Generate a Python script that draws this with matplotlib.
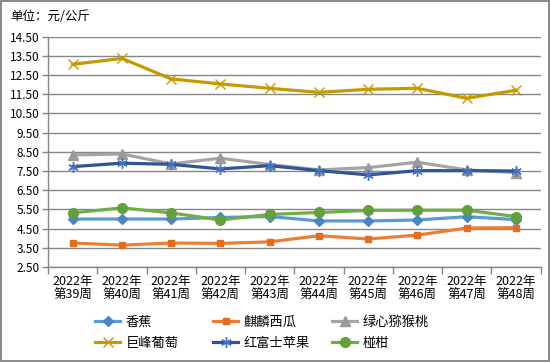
import matplotlib
matplotlib.use("Agg")
import matplotlib.pyplot as plt

plt.rcParams["font.family"] = ["Noto Sans CJK SC", "DejaVu Sans"]

weeks = ["2022年\n第39周", "2022年\n第40周", "2022年\n第41周", "2022年\n第42周", "2022年\n第43周",
         "2022年\n第44周", "2022年\n第45周", "2022年\n第46周", "2022年\n第47周", "2022年\n第48周"]

banana = [5.00, 5.00, 5.00, 5.08, 5.13, 4.90, 4.90, 4.95, 5.12, 4.97]
watermelon = [3.75, 3.64, 3.75, 3.73, 3.81, 4.13, 3.96, 4.16, 4.53, 4.55]
kiwi = [8.34, 8.39, 7.87, 8.17, 7.84, 7.56, 7.68, 7.96, 7.56, 7.42]
grape = [13.06, 13.37, 12.30, 12.04, 11.81, 11.60, 11.76, 11.81, 11.29, 11.71]
apple = [7.73, 7.91, 7.85, 7.61, 7.78, 7.52, 7.30, 7.52, 7.52, 7.50]
citrus = [5.32, 5.58, 5.32, 4.95, 5.24, 5.34, 5.45, 5.46, 5.46, 5.13]

names = ["香蕉", "麒麟西瓜", "绿心猕猴桃", "巨峰葡萄", "红富士苹果", "椪柑"]

W, H = 550, 362
fig = plt.figure(figsize=(W / 100, H / 100), dpi=100)
fig.patch.set_edgecolor("#8c8c8c")
fig.patch.set_linewidth(1.5)

ax = fig.add_axes([48 / W, 1 - 267 / H, (540.5 - 48) / W, (267 - 36.7) / H])

x = list(range(len(weeks)))
# (数据, 线色, 标记, 标记色, 标记大小)
styles = [
    (banana, "#5B9BD5", "D", "#4A86C5", 5),
    (watermelon, "#ED7D31", "s", "#E36C1E", 5),
    (kiwi, "#A5A5A5", "^", "#9A9A9A", 6.5),
    (grape, "#C49A00", "x", "#C49A00", 6.5),
    (apple, "#2F5597", (6, 2, 0), "#4472C4", 7.5),
    (citrus, "#70AD47", "o", "#62A03B", 7),
]
handles = []
for name, (vals, col, mk, mcol, ms) in zip(names, styles):
    h, = ax.plot(x, vals, color=col, lw=2.3, marker=mk, markersize=ms,
                 markerfacecolor=mcol, markeredgecolor=mcol, markeredgewidth=1.0,
                 label=name, zorder=3)
    handles.append(h)

ax.set_xlim(-0.5, len(weeks) - 0.5)
ax.set_ylim(2.5, 14.5)
ax.set_yticks([2.5 + i for i in range(13)])
ax.set_yticklabels([f"{2.5 + i:.2f}" for i in range(13)], fontsize=8.5)
ax.set_xticks(x)
ax.set_xticklabels(weeks, fontsize=9, linespacing=1.05)
ax.set_xticks([i - 0.5 for i in range(len(weeks) + 1)], minor=True)
ax.tick_params(axis="x", which="major", length=0, pad=6)
ax.tick_params(axis="x", which="minor", length=5, color="#868686", width=1, direction="out")
ax.tick_params(axis="y", length=4, color="#868686", width=1, pad=2)
ax.grid(axis="y", color="#868686", lw=1)
ax.set_axisbelow(True)
for s in ["top", "right"]:
    ax.spines[s].set_visible(False)
for s in ["left", "bottom"]:
    ax.spines[s].set_color("#868686")
    ax.spines[s].set_linewidth(1)

fig.text(10 / W, 1 - 17 / H, "单位：元/公斤", fontsize=9, va="center", ha="left")

# 图例：三列，每列两项
col_x = [95, 213, 332]
for c in range(3):
    hs = [handles[c], handles[c + 3]]
    leg = fig.legend(hs, [h.get_label() for h in hs], loc="upper left",
                     bbox_to_anchor=(col_x[c] / W, 1 - 316 / H), frameon=False,
                     fontsize=9.5, borderpad=0, borderaxespad=0, handlelength=1.9,
                     handletextpad=0.45, labelspacing=0.6)

fig.savefig("out.png", dpi=100)
